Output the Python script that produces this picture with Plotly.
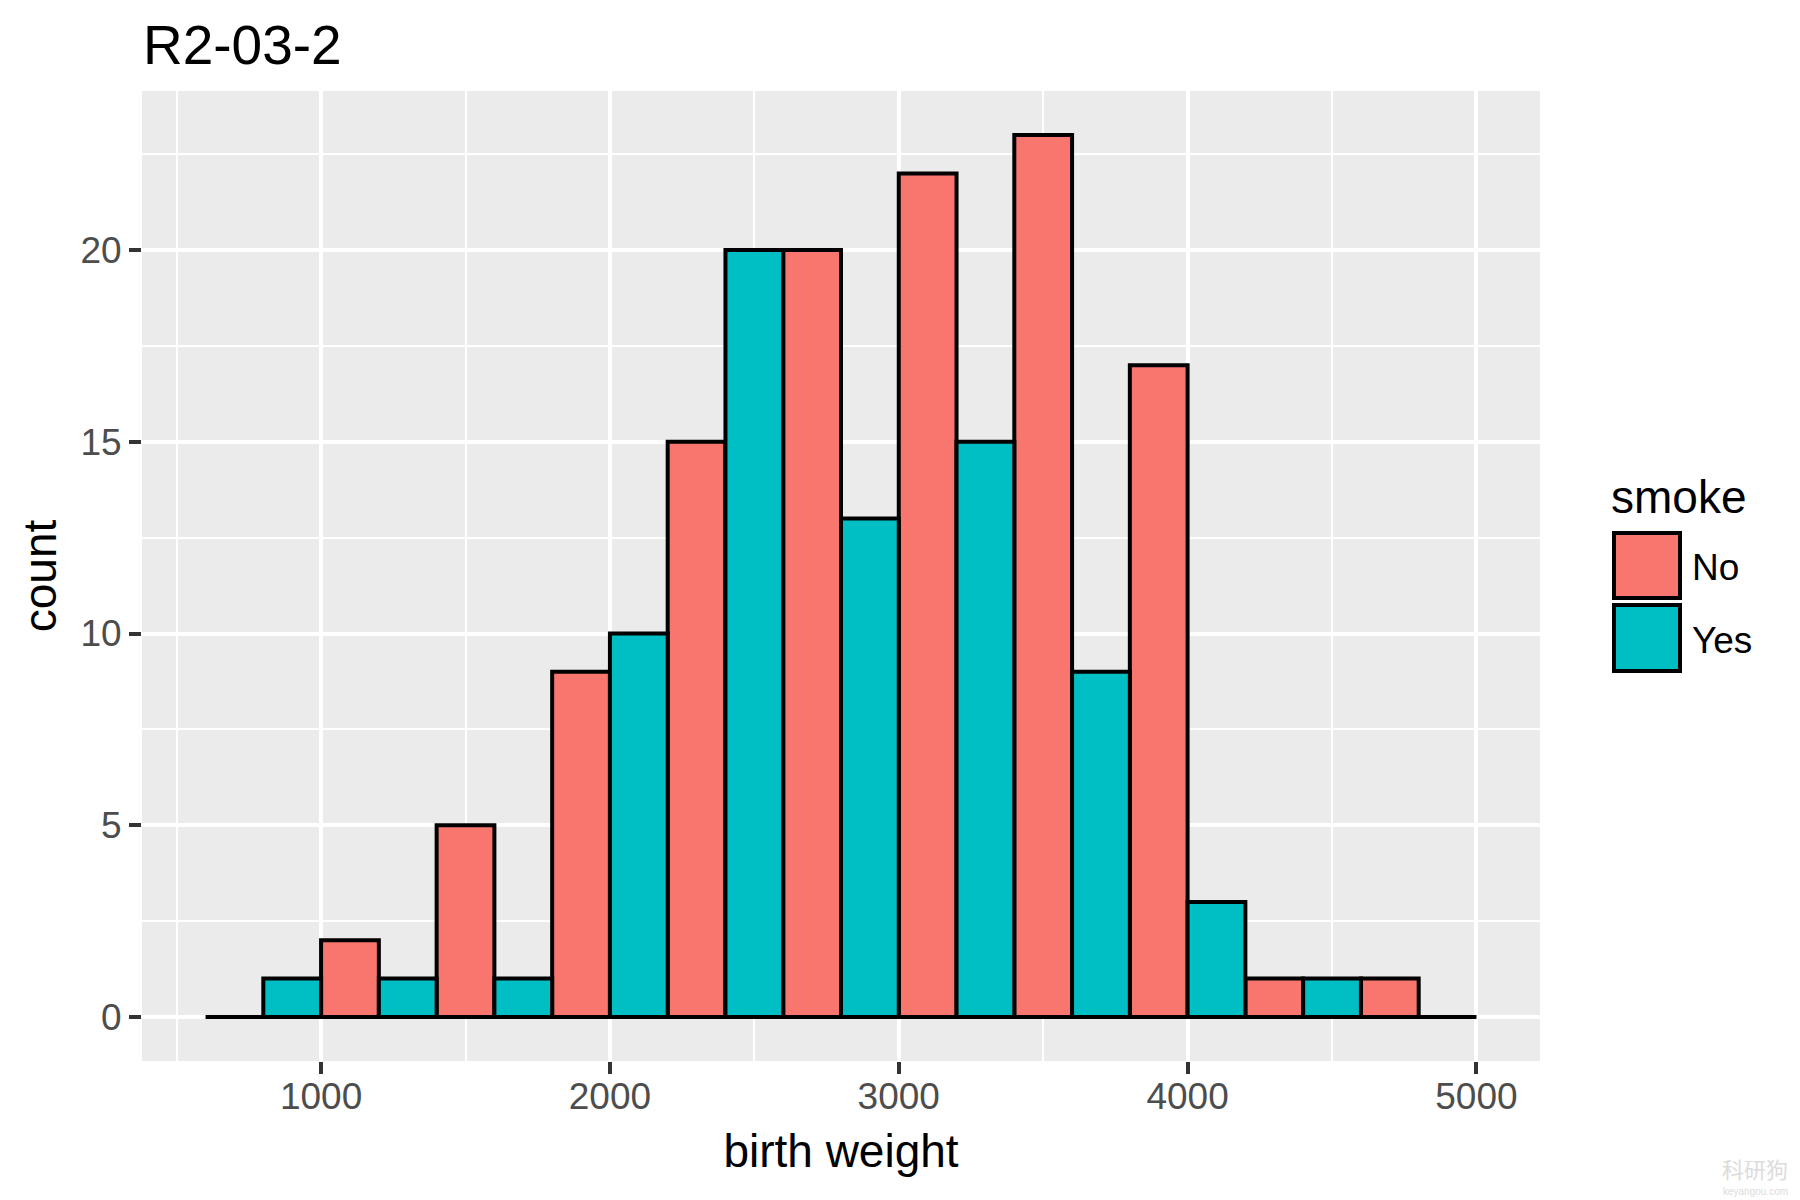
import plotly.graph_objects as go

# bins are 200 wide, the two groups alternate because of position dodge
no_bins = [700, 1100, 1500, 1900, 2300, 2700, 3100, 3500, 3900, 4300, 4700]
no_counts = [0, 2, 5, 9, 15, 20, 22, 23, 17, 1, 1]
yes_bins = [900, 1300, 1700, 2100, 2500, 2900, 3300, 3700, 4100, 4500, 4900]
yes_counts = [1, 1, 1, 10, 20, 13, 15, 9, 3, 1, 0]

x_ticks = [1000, 2000, 3000, 4000, 5000]
y_ticks = [0, 5, 10, 15, 20]

NO_COLOR = "#F8766D"
YES_COLOR = "#00BFC4"
FONT = "Liberation Sans, Arial, sans-serif"

# the page body has an 8px margin, so the figure is drawn 8px in from the window corner
BODY = 8
W, H = 1800 - BODY, 1200 - BODY
PANEL_L, PANEL_R, PANEL_T, PANEL_B = 142, 1540, 91, 1061

fig = go.Figure()
for name, bins, counts, color in [
    ("No", no_bins, no_counts, NO_COLOR),
    ("Yes", yes_bins, yes_counts, YES_COLOR),
]:
    fig.add_trace(go.Bar(
        x=bins, y=counts, width=200, name=name,
        marker=dict(color=color, line=dict(color="black", width=4)),
        showlegend=False,
    ))


# window pixels -> paper fractions of the panel
def px_x(v):
    return (v - PANEL_L) / (PANEL_R - PANEL_L)


def px_y(v):
    return (PANEL_B - v) / (PANEL_B - PANEL_T)


# ggplot style legend, plotly's own swatches can't get this big
shapes = []
annotations = []
for y0, y1, color, label in [(533, 598, NO_COLOR, "No"), (605, 671, YES_COLOR, "Yes")]:
    shapes.append(dict(
        type="rect", xref="paper", yref="paper",
        x0=px_x(1614), x1=px_x(1680), y0=px_y(y1), y1=px_y(y0),
        fillcolor=color, line=dict(color="black", width=4),
    ))
    annotations.append(dict(
        text=label, xref="paper", yref="paper", x=px_x(1690), y=px_y((y0 + y1) / 2 + 2),
        xanchor="left", yanchor="middle", showarrow=False,
        font=dict(family=FONT, size=37, color="black"),
    ))
annotations.append(dict(
    text="smoke", xref="paper", yref="paper", x=px_x(1609), y=px_y(497),
    xanchor="left", yanchor="middle", showarrow=False,
    font=dict(family=FONT, size=46, color="black"),
))
# watermark from the source image
annotations.append(dict(
    text="科研狗", xref="paper", yref="paper", x=px_x(1790), y=px_y(1168),
    xanchor="right", yanchor="middle", showarrow=False,
    font=dict(family="Noto Sans CJK SC", size=22, color="#dcdcdc"),
))
annotations.append(dict(
    text="keyangou.com", xref="paper", yref="paper", x=px_x(1790), y=px_y(1191),
    xanchor="right", yanchor="middle", showarrow=False,
    font=dict(family=FONT, size=10, color="#dcdcdc"),
))

fig.update_layout(
    width=W, height=H, autosize=False,
    margin=dict(l=PANEL_L - BODY, r=1800 - PANEL_R, t=PANEL_T - BODY, b=1200 - PANEL_B, pad=0),
    barmode="overlay",
    plot_bgcolor="#EBEBEB",
    paper_bgcolor="white",
    font=dict(family=FONT),
    title=dict(
        text="R2-03-2", x=(143 - BODY) / W, xanchor="left", xref="container",
        y=1 - (64 - BODY) / H, yanchor="bottom", yref="container",
        font=dict(family=FONT, size=55, color="black"), pad=dict(b=0),
    ),
    shapes=shapes,
    annotations=annotations,
)
fig.update_xaxes(
    range=[380, 5220], tickvals=x_ticks, ticktext=[str(t) for t in x_ticks],
    showgrid=True, gridcolor="white", gridwidth=4, zeroline=False, showline=False,
    ticks="outside", ticklen=12, tickwidth=4, tickcolor="#333333",
    tickfont=dict(family=FONT, size=37, color="#4D4D4D"),
    ticklabelstandoff=-9,
    minor=dict(tick0=500, dtick=1000, showgrid=True, gridcolor="white", gridwidth=2, ticks=""),
    title=dict(text="birth weight", font=dict(family=FONT, size=46, color="black"), standoff=18),
)
fig.update_yaxes(
    range=[-1.15, 24.15], tickvals=y_ticks, ticktext=[str(t) for t in y_ticks],
    showgrid=True, gridcolor="white", gridwidth=4, zeroline=False, showline=False,
    ticks="outside", ticklen=12, tickwidth=4, tickcolor="#333333",
    tickfont=dict(family=FONT, size=37, color="#4D4D4D"),
    minor=dict(tick0=2.5, dtick=5, showgrid=True, gridcolor="white", gridwidth=2, ticks=""),
    title=dict(text="count", font=dict(family=FONT, size=46, color="black"), standoff=9),
)

fig.write_html("out.html")
